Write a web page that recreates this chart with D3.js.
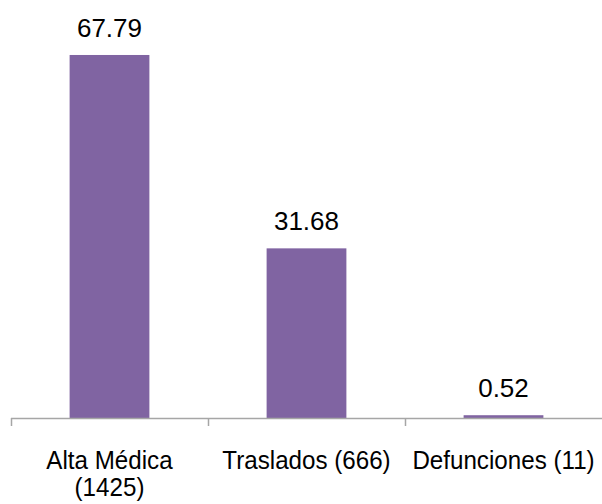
<!DOCTYPE html>
<html>
<head>
<meta charset="utf-8">
<script src="https://cdn.jsdelivr.net/npm/d3@7"></script>
<style>
  body { margin: 0; background: #fff; }
  text { font-family: "Liberation Sans", Arial, sans-serif; fill: #000; }
</style>
</head>
<body>
<div id="chart"></div>
<script>
// data
var categories = ["Alta Médica (1425)", "Traslados (666)", "Defunciones (11)"];
var labelLines = [["Alta Médica", "(1425)"], ["Traslados (666)"], ["Defunciones (11)"]];
var values = [67.79, 31.68, 0.52];

var width = 602, height = 504;
var axisY = 418;

var svg = d3.select("#chart")
  .append("svg")
    .attr("width", width)
    .attr("height", height);

// x: one band per category, ticks sit on band edges
var x = d3.scaleBand()
  .domain(categories)
  .range([11, 602])
  .padding(0);

var y = d3.scaleLinear()
  .domain([0, 70])
  .range([axisY, axisY - 70 * 5.355]);

var barW = x.bandwidth() * 0.405;

// bars
svg.append("g")
  .selectAll("rect")
  .data(values)
  .enter()
  .append("rect")
    .attr("x", function(d, i) { return x(categories[i]) + (x.bandwidth() - barW) / 2; })
    .attr("y", function(d) { return y(d); })
    .attr("width", barW)
    .attr("height", function(d) { return axisY - y(d); })
    .attr("fill", "#8064a2");

// axis line + ticks
svg.append("line")
  .attr("x1", 11).attr("x2", width)
  .attr("y1", axisY + 0.5).attr("y2", axisY + 0.5)
  .attr("stroke", "#a6a6a6")
  .attr("stroke-width", 1.5);

svg.append("g")
  .selectAll("line")
  .data(categories)
  .enter()
  .append("line")
    .attr("x1", function(d) { return x(d) + 0.5; })
    .attr("x2", function(d) { return x(d) + 0.5; })
    .attr("y1", axisY)
    .attr("y2", axisY + 8)
    .attr("stroke", "#a6a6a6")
    .attr("stroke-width", 1.5);

// value labels
svg.append("g")
  .selectAll("text")
  .data(values)
  .enter()
  .append("text")
    .attr("x", function(d, i) { return x(categories[i]) + x.bandwidth() / 2; })
    .attr("y", function(d) { return y(d) - 18; })
    .attr("text-anchor", "middle")
    .style("font-size", "26px")
    .text(function(d) { return d.toFixed(2); });

// category labels (slightly condensed like the original)
var cat = svg.append("g")
  .selectAll("text")
  .data(labelLines)
  .enter()
  .append("text")
    .attr("text-anchor", "middle")
    .attr("transform", function(d, i) {
      return "translate(" + (x(categories[i]) + x.bandwidth() / 2) + ",469) scale(0.93,1)";
    })
    .style("font-size", "26px");

cat.selectAll("tspan")
  .data(function(d) { return d; })
  .enter()
  .append("tspan")
    .attr("x", 0)
    .attr("dy", function(d, j) { return j === 0 ? 0 : 27; })
    .text(function(d) { return d; });
</script>
</body>
</html>
